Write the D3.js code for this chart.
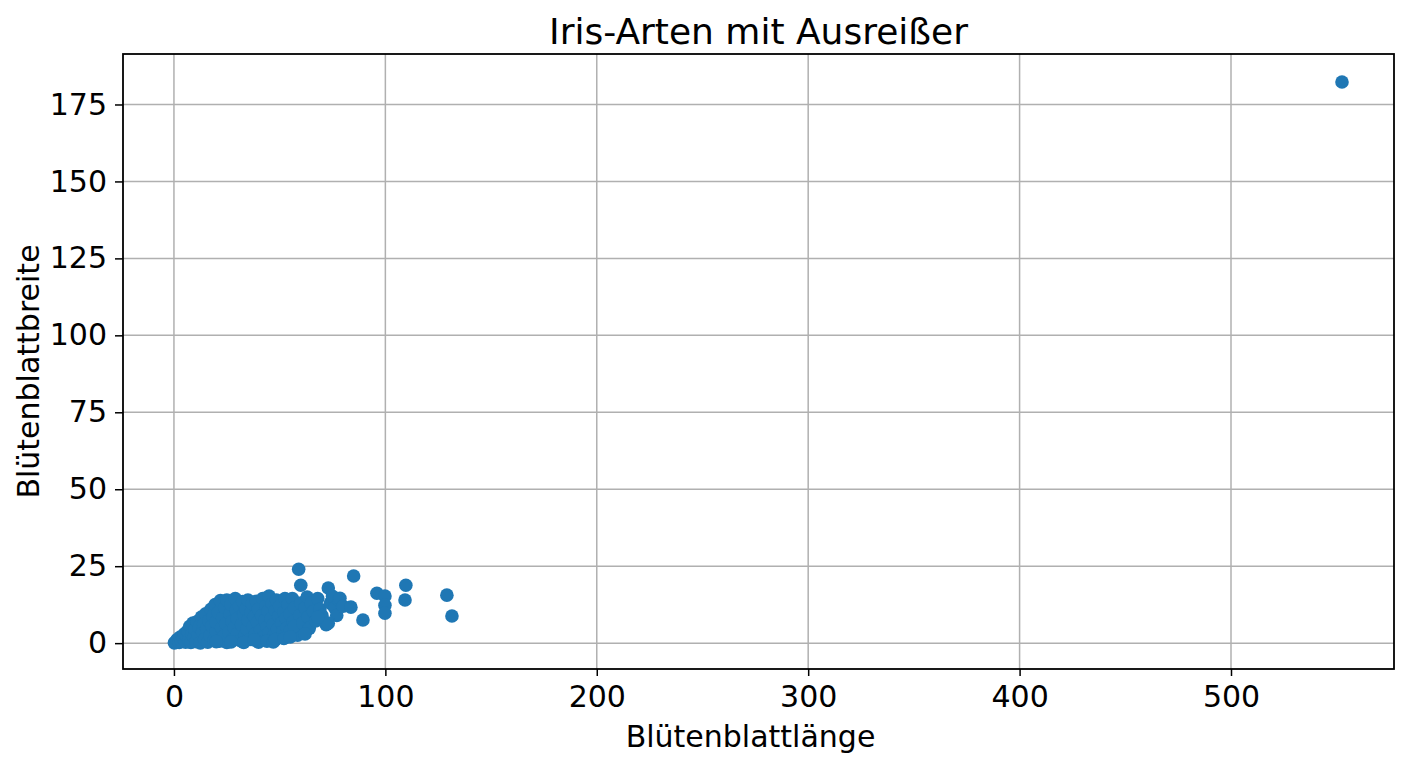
<!DOCTYPE html>
<html>
<head>
<meta charset="utf-8">
<script src="https://cdn.jsdelivr.net/npm/d3@7"></script>
<style>
  body { margin: 0; background: #fff; }
  svg { display: block; font-family: "DejaVu Sans", sans-serif; }
</style>
</head>
<body>
<div id="chart"></div>
<script>
// petal length (x) and petal width (y)
const petalLength = [
  0.2, 1, 1.5, 2.5, 3, 3.5, 4.5, 5,
  5.5, 6, 6.5, 7, 7.5, 8, 8.5, 9, 9.5, 10,
  10.5, 11, 11.5, 12, 12.5, 13, 13.5, 14, 14.5, 15,
  15.5, 16, 16.5, 17, 17.5, 18, 18.5, 19, 19.5, 20, 20,
  21, 21.5, 22, 22.5, 23, 23.5, 24, 24.5, 25, 25,
  26, 26.5, 27, 27.5, 28, 28.5, 29, 29.5, 30, 30,
  31, 31.5, 32, 32.5, 33, 33.5, 34, 34.5, 35, 35,
  36, 36.5, 37, 37.5, 38, 38.5, 39, 39.5, 40, 40,
  41, 41.5, 42, 42.5, 43, 43.5, 44, 44.5, 45, 45,
  46, 46.5, 47, 47.5, 48, 48.5, 49, 49.5, 50,
  51, 51.5, 52, 52.5, 53, 53.5, 54, 55, 55,
  56, 56.5, 57, 58, 58.5, 59, 60, 59.5, 60, 57,
  61, 62, 63, 63.5, 64, 65, 66, 67, 68, 69,
  70, 72, 73, 74, 75, 76, 77, 78, 78.5, 80, 73, 68,
  20, 27, 33, 38, 44, 47, 48, 52, 55, 62,
  83.7, 85, 89.4, 96, 99.8, 99.8, 99.8, 109.7, 109.3, 129.1, 131.5,
  552.5
];
const petalWidth = [
  0.1, 0.4, 1.2, 0.2, 2, 0.8, 1.5, 3,
  0.3, 2.2, 4, 1, 5.5, 0.2, 3, 6.5, 1.8, 4.5,
  0.5, 7, 2.8, 5.2, 0.1, 8.5, 3.6, 6.2, 1.2, 9.5,
  4.8, 0.3, 7.3, 2.5, 11, 5.6, 8.8, 1, 12.5, 3.8, 6.9,
  10, 0.6, 13.8, 5, 8.2, 2.2, 11.6, 6.3, 0.2, 14,
  3.5, 9.4, 12.6, 7, 1.5, 5, 14.5, 10.8, 3, 8,
  12, 0.8, 6, 13.5, 9.5, 2.5, 11, 4.6, 7.5, 14,
  1.2, 10, 12.8, 5.5, 8.6, 3, 13.6, 6.8, 0.3, 11,
  4.2, 9, 14.5, 2, 7.4, 12, 5.2, 10.4, 3.4, 15.3,
  8, 12.8, 6, 2.8, 10.6, 14, 4.5, 8.8, 12,
  6.5, 3.8, 10, 14.5, 8, 5, 12.5, 9.5, 4,
  14.5, 7, 11.4, 5, 2.6, 24, 18.8, 9, 13, 5.5,
  6.5, 11.5, 15, 8.5, 4.8, 13, 10.3, 7.2, 14.5, 11,
  9, 6, 17.9, 13, 15.2, 11.5, 9, 14, 14.6, 12, 6.5, 8.4,
  0.5, 0.4, 0.2, 1, 0.6, 0.4, 1.2, 1.5, 2, 3,
  11.7, 21.8, 7.5, 16.2, 15.3, 12.3, 9.7, 18.8, 14, 15.6, 8.8,
  182.3
];
const xTicks = [0, 100, 200, 300, 400, 500];
const yTicks = [0, 25, 50, 75, 100, 125, 150, 175];

const width = 1408;
const height = 768;
const margin = { top: 54, right: 14, bottom: 99, left: 123 };

const svg = d3
  .select("#chart")
  .append("svg")
  .attr("width", width)
  .attr("height", height);

const x = d3
  .scaleLinear()
  .domain([-24.1, 577.1])
  .range([margin.left, width - margin.right]);

const y = d3
  .scaleLinear()
  .domain([-8.4, 191.4])
  .range([height - margin.bottom, margin.top]);

// grid
svg
  .append("g")
  .selectAll("line")
  .data(xTicks)
  .join("line")
  .attr("x1", (d) => x(d))
  .attr("x2", (d) => x(d))
  .attr("y1", margin.top)
  .attr("y2", height - margin.bottom)
  .attr("stroke", "#b0b0b0")
  .attr("stroke-width", 1.5);

svg
  .append("g")
  .selectAll("line")
  .data(yTicks)
  .join("line")
  .attr("x1", margin.left)
  .attr("x2", width - margin.right)
  .attr("y1", (d) => y(d))
  .attr("y2", (d) => y(d))
  .attr("stroke", "#b0b0b0")
  .attr("stroke-width", 1.5);

// points
const points = petalLength.map((d, i) => ({ x: d, y: petalWidth[i] }));
svg
  .append("g")
  .selectAll("circle")
  .data(points)
  .join("circle")
  .attr("cx", (d) => x(d.x))
  .attr("cy", (d) => y(d.y))
  .attr("r", 6.8)
  .attr("fill", "#1f77b4");

// axes
const xAxis = d3.axisBottom(x).tickValues(xTicks).tickSizeOuter(0).tickSize(7).tickPadding(10);
const yAxis = d3.axisLeft(y).tickValues(yTicks).tickSizeOuter(0).tickSize(8).tickPadding(8);

svg
  .append("g")
  .attr("transform", `translate(0,${height - margin.bottom})`)
  .call(xAxis)
  .call((g) => g.select(".domain").remove())
  .call((g) => g.selectAll("line").attr("stroke", "#000").attr("stroke-width", 1.5))
  .call((g) => g.selectAll("text").attr("font-size", 30).attr("fill", "#000").attr("font-family", "DejaVu Sans"));

svg
  .append("g")
  .attr("transform", `translate(${margin.left},0)`)
  .call(yAxis)
  .call((g) => g.select(".domain").remove())
  .call((g) => g.selectAll("line").attr("stroke", "#000").attr("stroke-width", 1.5))
  .call((g) => g.selectAll("text").attr("font-size", 30).attr("fill", "#000").attr("font-family", "DejaVu Sans"));

// frame
svg
  .append("rect")
  .attr("x", margin.left)
  .attr("y", margin.top)
  .attr("width", width - margin.left - margin.right)
  .attr("height", height - margin.top - margin.bottom)
  .attr("fill", "none")
  .attr("stroke", "#000")
  .attr("stroke-width", 1.8);

// labels
svg
  .append("text")
  .attr("x", (margin.left + width - margin.right) / 2)
  .attr("y", 44)
  .attr("text-anchor", "middle")
  .attr("font-size", 36)
  .text("Iris-Arten mit Ausreißer");

svg
  .append("text")
  .attr("x", (margin.left + width - margin.right) / 2 - 8)
  .attr("y", 747)
  .attr("text-anchor", "middle")
  .attr("font-size", 30)
  .text("Blütenblattlänge");

svg
  .append("text")
  .attr("transform", `translate(39,${(margin.top + height - margin.bottom) / 2 + 10}) rotate(-90)`)
  .attr("text-anchor", "middle")
  .attr("font-size", 30)
  .text("Blütenblattbreite");
</script>
</body>
</html>
